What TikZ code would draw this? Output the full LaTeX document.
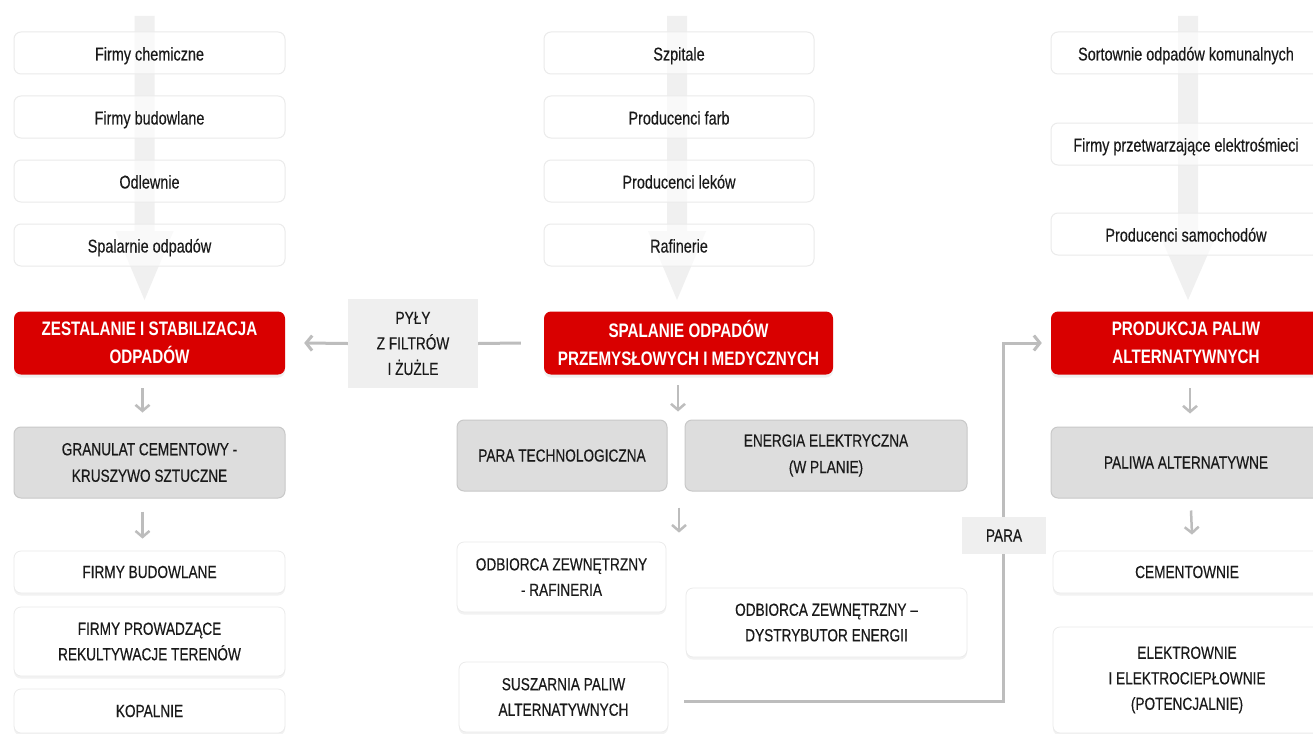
\documentclass[tikz,border=0pt]{standalone}
\usepackage{fontspec}
\setmainfont{Liberation Sans}[FakeStretch=0.78]
\newfontfamily\regf{Liberation Sans}[FakeStretch=0.78, FakeBold=0.35]
\usetikzlibrary{arrows.meta,shadows}
\definecolor{redbox}{HTML}{D90000}
\definecolor{bgarrow}{HTML}{F0F0F0}
\definecolor{arrcol}{HTML}{BDBDBD}
\definecolor{gfill}{HTML}{DDDDDD}
\definecolor{gline}{HTML}{C8C8C8}
\definecolor{txt}{HTML}{1A1A1A}
\definecolor{labfill}{HTML}{EFEFEF}
\definecolor{wline}{HTML}{EBEBEB}
\tikzset{
  basebox/.style={inner sep=0pt, align=center, text=txt, rounded corners=7pt},
  topbox/.style={basebox, draw=wline, line width=1pt, fill=white, fill opacity=0.62, text opacity=1,
     minimum height=42pt, text height=15pt, text depth=0pt, font=\regf\fontsize{18.5}{22}\selectfont},
  wbox/.style={basebox, draw=wline, line width=0.8pt, fill=white,
     drop shadow={shadow xshift=0pt, shadow yshift=-2.5pt, opacity=0.10},
     font=\regf\fontsize{17.5}{25.5}\selectfont},
  gbox/.style={basebox, draw=gline, line width=1pt, fill=gfill, minimum height=71pt,
     font=\regf\fontsize{17.5}{26.5}\selectfont},
  rbox/.style={basebox, fill=redbox, text=white, minimum height=63pt,
     drop shadow={shadow xshift=0pt, shadow yshift=-3pt, opacity=0.12},
     font=\fontsize{19.5}{28}\selectfont\bfseries},
  labbox/.style={inner sep=0pt, align=center, text=txt, fill=labfill,
     font=\regf\fontsize{17.5}{25.5}\selectfont},
  conn/.style={draw=arrcol, line width=3pt},
  tipconn/.style={conn, -{Straight Barb[length=6pt,width=15pt]}},
  sarrow/.style={draw=arrcol, line width=2.5pt, -{Straight Barb[length=6pt,width=14pt]}},
  bigarrow/.style={fill=bgarrow, draw=none}
}
\begin{document}
\begin{tikzpicture}[x=1pt,y=-1pt]
\useasboundingbox (0,0) rectangle (1313,733);
\clip (0,0) rectangle (1313,733);
\fill[white] (0,0) rectangle (1313,733);

% background arrows
\foreach \cx/\hy in {144.5/231, 677/231, 1188/233}{
  \path[bigarrow] (\cx-10,16) -- (\cx+10,16) -- (\cx+10,\hy) -- (\cx+29,\hy)
     -- (\cx,300) -- (\cx-29,\hy) -- (\cx-10,\hy) -- cycle;
}

% top boxes - left
\node[topbox, minimum width=271pt] (l1) at (149.5,53) {Firmy chemiczne};
\node[topbox, minimum width=271pt] (l2) at (149.5,117) {Firmy budowlane};
\node[topbox, minimum width=271pt] (l3) at (149.5,181) {Odlewnie};
\node[topbox, minimum width=271pt] (l4) at (149.5,245) {Spalarnie odpadów};
% top boxes - center
\node[topbox, minimum width=270pt] (c1) at (679,53) {Szpitale};
\node[topbox, minimum width=270pt] (c2) at (679,117) {Producenci farb};
\node[topbox, minimum width=270pt] (c3) at (679,181) {Producenci leków};
\node[topbox, minimum width=270pt] (c4) at (679,245) {Rafinerie};
% top boxes - right
\node[topbox, minimum width=270pt] (r1) at (1186,53) {Sortownie odpadów komunalnych};
\node[topbox, minimum width=270pt] (r2) at (1186,144) {Firmy przetwarzające elektrośmieci};
\node[topbox, minimum width=270pt] (r3) at (1186,234) {Producenci samochodów};

% red boxes
\node[rbox, minimum width=271pt] (zes) at (149.5,343) {ZESTALANIE I STABILIZACJA\\ODPADÓW};
\node[rbox, minimum width=289pt] (spal) at (688.5,343) {SPALANIE ODPADÓW\\PRZEMYSŁOWYCH I MEDYCZNYCH};
\node[rbox, minimum width=270pt] (prod) at (1186,343) {PRODUKCJA PALIW\\ALTERNATYWNYCH};

% PYLY label and connectors
\node[labbox, minimum width=130pt, minimum height=89pt] (pyly) at (413,343.5) {PYŁY\\Z FILTRÓW\\I ŻUŻLE};
\draw[conn] ([xshift=-23pt]spal.west) -- (pyly.east);
\draw[tipconn] (pyly.west) -- ([xshift=19pt]zes.east);

% gray boxes
\node[gbox, minimum width=271pt] (gran) at (149.5,462.5) {GRANULAT CEMENTOWY -\\KRUSZYWO SZTUCZNE};
\node[gbox, minimum width=210pt] (ptech) at (562,455.5) {PARA TECHNOLOGICZNA};
\node[gbox, minimum width=282pt] (ener) at (826,455.5) {ENERGIA ELEKTRYCZNA\\(W PLANIE)};
\node[gbox, minimum width=270pt] (paliwa) at (1186,462.5) {PALIWA ALTERNATYWNE};

% white lower boxes
\node[wbox, minimum width=271pt, minimum height=42pt] (fbud) at (149.5,572) {FIRMY BUDOWLANE};
\node[wbox, minimum width=271pt, minimum height=69pt] (fprow) at (149.5,641.5) {FIRMY PROWADZĄCE\\REKULTYWACJE TERENÓW};
\node[wbox, minimum width=271pt, minimum height=44pt] (kop) at (149.5,711) {KOPALNIE};
\node[wbox, minimum width=209pt, minimum height=70pt] (odbraf) at (561.5,577) {ODBIORCA ZEWNĘTRZNY\\- RAFINERIA};
\node[wbox, minimum width=281pt, minimum height=69pt] (odbdys) at (826.5,622.5) {ODBIORCA ZEWNĘTRZNY –\\DYSTRYBUTOR ENERGII};
\node[wbox, minimum width=209pt, minimum height=70pt] (susz) at (563.5,697) {SUSZARNIA PALIW\\ALTERNATYWNYCH};
\node[wbox, minimum width=268pt, minimum height=42pt] (cem) at (1187,572) {CEMENTOWNIE};
\node[wbox, minimum width=268pt, minimum height=106pt] (elek) at (1187,680) {ELEKTROWNIE\\I ELEKTROCIEPŁOWNIE\\(POTENCJALNIE)};

% small down arrows
\draw[sarrow] ([xshift=-7pt,yshift=-13.5pt]zes.south) -- ([xshift=-7pt,yshift=14pt]gran.north);
\draw[sarrow] ([xshift=-7pt,yshift=-13pt]gran.south) -- ([xshift=-7pt,yshift=12pt]fbud.north);
\draw[sarrow] ([xshift=-10.5pt,yshift=-10.5pt]spal.south) -- ([xshift=-10.5pt,yshift=8pt]ptech.north-|spal.south);
\draw[sarrow] ([xshift=-9.5pt,yshift=-16pt]ptech.south-|spal.south) -- ([xshift=-9.5pt,yshift=9pt]odbraf.north-|spal.south);
\draw[sarrow] ([xshift=4pt,yshift=-13.5pt]prod.south) -- ([xshift=4pt,yshift=13pt]paliwa.north);
\draw[sarrow] ([xshift=5pt,yshift=-12pt]paliwa.south) -- ([xshift=5pt,yshift=16pt]cem.north);

% PARA connector
\coordinate (pstart) at ([xshift=16pt,yshift=-4pt]susz.east);
\coordinate (pcorner) at (1003,343);
\draw[tipconn] (pstart) -| (pcorner) -- ([xshift=-9pt]prod.west);
\node[labbox, minimum width=84pt, minimum height=37pt] (para) at (1004,535.5) {PARA};
\end{tikzpicture}
\end{document}
